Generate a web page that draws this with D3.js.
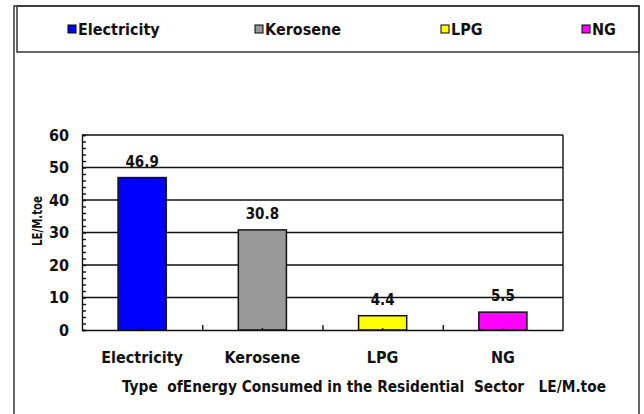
<!DOCTYPE html>
<html>
<head>
<meta charset="utf-8">
<script src="https://cdn.jsdelivr.net/npm/d3@7"></script>
<style>
  body { margin: 0; background: #fff; }
  svg text { font-family: "Liberation Sans Narrow", "Arial Narrow", "DejaVu Sans Condensed", sans-serif; font-weight: bold; fill: #111; }
</style>
</head>
<body>
<div id="chart"></div>
<script>
// data
const categories = ["Electricity", "Kerosene", "LPG", "NG"];
const values = [46.9, 30.8, 4.4, 5.5];
const colors = ["#0000ff", "#999999", "#ffff00", "#ff00ff"];
const yTicks = [0, 10, 20, 30, 40, 50, 60];
const yTitle = "LE/M.toe";
const xTitle = "Type  ofEnergy Consumed in the Residential  Sector   LE/M.toe";

const W = 644, H = 414;
// plot area
const plot = { left: 82, right: 563, top: 135, bottom: 330 };

const svg = d3.select("#chart").append("svg")
  .attr("width", W)
  .attr("height", H);

// outer frame + legend box
svg.append("path")
  .attr("d", `M14,${H} V6 H639 V${H}`)
  .attr("fill", "none")
  .attr("stroke", "#333")
  .attr("stroke-width", 1.5);
svg.append("rect")
  .attr("x", 17).attr("y", 6)
  .attr("width", 622).attr("height", 46)
  .attr("fill", "none")
  .attr("stroke", "#333")
  .attr("stroke-width", 1.5);

// legend
const legendX = [68, 255, 441, 582];
const legend = svg.append("g").selectAll("g")
  .data(categories)
  .join("g")
    .attr("transform", (d, i) => `translate(${legendX[i]},25)`);
legend.append("rect")
  .attr("width", 8).attr("height", 8)
  .attr("fill", (d, i) => colors[i])
  .attr("stroke", "#000")
  .attr("stroke-width", 1);
legend.append("text")
  .attr("x", 10).attr("y", 4)
  .attr("dy", "0.36em")
  .style("font-size", "16px")
  .text(d => d);

// scales
const x = d3.scaleBand()
  .domain(categories)
  .range([plot.left, plot.right])
  .paddingInner(0.6)
  .paddingOuter(0.3);

const y = d3.scaleLinear()
  .domain([0, 60])
  .range([plot.bottom, plot.top]);

// gridlines
svg.append("g")
  .selectAll("line")
  .data(yTicks.slice(1))
  .join("line")
    .attr("x1", plot.left).attr("x2", plot.right)
    .attr("y1", d => y(d)).attr("y2", d => y(d))
    .attr("stroke", "#111")
    .attr("stroke-width", 1.4);

// right border of plot
svg.append("line")
  .attr("x1", plot.right).attr("x2", plot.right)
  .attr("y1", plot.top).attr("y2", plot.bottom)
  .attr("stroke", "#111")
  .attr("stroke-width", 1.4);

// bars
svg.append("g")
  .selectAll("rect")
  .data(values)
  .join("rect")
    .attr("x", (d, i) => x(categories[i]))
    .attr("y", d => y(d))
    .attr("width", x.bandwidth())
    .attr("height", d => y(0) - y(d))
    .attr("fill", (d, i) => colors[i])
    .attr("stroke", "#111")
    .attr("stroke-width", 1.5);

// value labels
svg.append("g")
  .selectAll("text")
  .data(values)
  .join("text")
    .attr("x", (d, i) => x(categories[i]) + x.bandwidth() / 2)
    .attr("y", d => y(d) - 11)
    .attr("text-anchor", "middle")
    .style("font-size", "15px")
    .text(d => d.toFixed(1));

// y axis: minor ticks every 2
svg.append("g")
  .attr("transform", `translate(${plot.left},0)`)
  .call(d3.axisLeft(y).tickValues(d3.range(0, 61, 2)).tickSize(-4).tickFormat(""))
  .call(g => g.selectAll("path, line").attr("stroke", "#111").attr("stroke-width", 1.4));

// y axis labels
svg.append("g")
  .attr("transform", `translate(${plot.left},0)`)
  .call(d3.axisLeft(y).tickValues(yTicks).tickSize(0).tickPadding(13))
  .call(g => g.select(".domain").remove())
  .call(g => g.selectAll("text")
    .style("font-size", "16px")
    .style("font-family", null)
    .attr("fill", "#111"));

// x axis
svg.append("g")
  .attr("transform", `translate(0,${plot.bottom})`)
  .call(d3.axisBottom(x).tickSizeInner(-2).tickSizeOuter(0).tickPadding(22))
  .call(g => g.select(".domain").attr("stroke", "#111").attr("stroke-width", 1.6))
  .call(g => g.selectAll("line").attr("stroke", "#111").attr("stroke-width", 1.4))
  .call(g => g.selectAll("text")
    .style("font-size", "16px")
    .style("font-family", null)
    .attr("fill", "#111"));

// category boundary ticks
const xb = d3.scaleLinear().domain([0, categories.length]).range([plot.left, plot.right]);
svg.append("g")
  .attr("transform", `translate(0,${plot.bottom})`)
  .call(d3.axisBottom(xb).tickValues([1, 2, 3]).tickSize(-5).tickFormat(""))
  .call(g => g.select(".domain").remove())
  .call(g => g.selectAll("line").attr("stroke", "#111").attr("stroke-width", 1.4));

// axis titles
svg.append("text")
  .attr("transform", "translate(42,221) rotate(-90)")
  .attr("text-anchor", "middle")
  .attr("textLength", 50)
  .attr("lengthAdjust", "spacingAndGlyphs")
  .style("font-size", "14px")
  .text(yTitle);

svg.append("text")
  .attr("x", 122).attr("y", 392)
  .attr("textLength", 484)
  .attr("lengthAdjust", "spacingAndGlyphs")
  .style("font-size", "16px")
  .style("white-space", "pre")
  .text(xTitle);
</script>
</body>
</html>
